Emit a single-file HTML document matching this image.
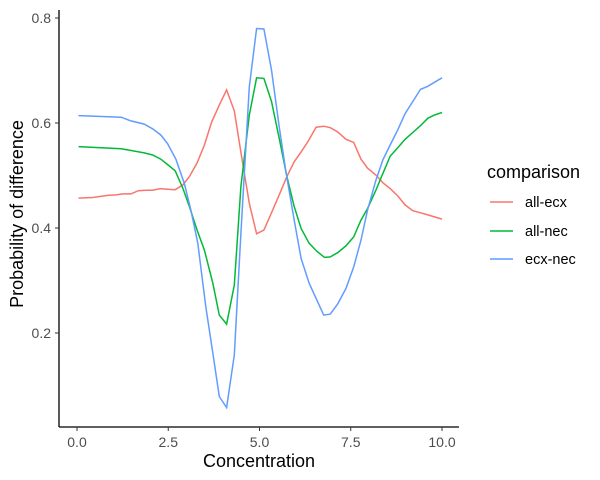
<!DOCTYPE html>
<html><head><meta charset="utf-8"><style>
body{margin:0;background:#fff;}
svg{display:block;font-family:"Liberation Sans",sans-serif;}
</style></head><body>
<svg id="chart" width="600" height="480">
<rect width="600" height="480" fill="#fff"/>
<g id="plot"></g>
<line x1="59" y1="10" x2="59" y2="427" stroke="#000" stroke-width="1.3"/>
<line x1="59" y1="427" x2="459" y2="427" stroke="#000" stroke-width="1.3"/>
<g id="axes"></g>
<text x="259" y="467" font-size="18" text-anchor="middle" fill="#000">Concentration</text>
<text transform="translate(23,214) rotate(-90)" font-size="18" text-anchor="middle" fill="#000">Probability of difference</text>
<g>
<text x="487" y="178" font-size="18" fill="#000">comparison</text>
<g><line x1="490" y1="202" x2="513" y2="202" stroke="#F8766D" stroke-width="1.5"/><text x="525" y="207" font-size="14.5" fill="#000">all-ecx</text></g>
<g><line x1="490" y1="231" x2="513" y2="231" stroke="#00BA38" stroke-width="1.5"/><text x="525" y="236" font-size="14.5" fill="#000">all-nec</text></g>
<g><line x1="490" y1="259" x2="513" y2="259" stroke="#619CFF" stroke-width="1.5"/><text x="525" y="264" font-size="14.5" fill="#000">ecx-nec</text></g>
</g>
</svg>
<script>
const xTicks=[0,2.5,5,7.5,10];
const xTickLabels=["0.0","2.5","5.0","7.5","10.0"];
const yTicks=[0.2,0.4,0.6,0.8];
const yTickLabels=["0.2","0.4","0.6","0.8"];
const seriesNames=["all-ecx","all-nec","ecx-nec"];
const ecxX=[0.04,0.43,0.84,1.07,1.25,1.48,1.68,1.89,2.07,2.28,2.48,2.69,2.90,3.08,3.29,3.49,3.69,3.90,4.10,4.31,4.51,4.72,4.92,5.12,5.33,5.54,5.75,5.95,6.14,6.34,6.55,6.76,6.94,7.14,7.37,7.58,7.78,7.96,8.19,8.38,8.60,8.79,8.99,9.20,9.41,9.61,10.0];
const ecxY=[0.457,0.458,0.462,0.463,0.465,0.465,0.471,0.472,0.472,0.475,0.474,0.473,0.482,0.498,0.524,0.558,0.602,0.634,0.663,0.623,0.536,0.447,0.389,0.396,0.429,0.463,0.498,0.526,0.545,0.566,0.592,0.594,0.591,0.583,0.569,0.563,0.531,0.514,0.501,0.486,0.474,0.461,0.444,0.433,0.429,0.425,0.417];
const necX=[0.04,1.21,1.84,2.07,2.30,2.48,2.69,2.90,3.08,3.29,3.49,3.72,3.90,4.10,4.31,4.49,4.72,4.92,5.12,5.33,5.54,5.75,5.95,6.14,6.36,6.58,6.78,6.94,7.14,7.37,7.58,7.78,7.96,8.19,8.38,8.58,8.79,8.99,9.20,9.41,9.61,9.79,10.0];
const necY=[0.555,0.551,0.543,0.539,0.531,0.521,0.509,0.476,0.441,0.396,0.358,0.295,0.234,0.217,0.291,0.479,0.615,0.686,0.685,0.641,0.571,0.498,0.441,0.399,0.371,0.355,0.344,0.345,0.353,0.366,0.383,0.415,0.437,0.472,0.504,0.537,0.553,0.569,0.582,0.595,0.609,0.615,0.620];
const ecxnecX=[0.04,1.21,1.48,1.84,2.07,2.30,2.48,2.71,2.94,3.12,3.31,3.53,3.72,3.90,4.10,4.31,4.49,4.72,4.92,5.12,5.33,5.54,5.73,5.95,6.14,6.36,6.55,6.76,6.94,7.14,7.37,7.58,7.78,7.96,8.19,8.38,8.60,8.79,8.99,9.20,9.41,9.61,10.0];
const ecxnecY=[0.614,0.611,0.604,0.598,0.589,0.577,0.561,0.531,0.485,0.434,0.371,0.250,0.162,0.079,0.058,0.158,0.390,0.669,0.780,0.779,0.701,0.593,0.505,0.415,0.342,0.295,0.266,0.234,0.236,0.255,0.285,0.326,0.377,0.434,0.491,0.530,0.561,0.587,0.618,0.641,0.664,0.670,0.686];
const ns="http://www.w3.org/2000/svg";
function sx(v){return 77+36.5*v;}
function sy(v){return 438-525*v;}
const axes=document.getElementById('axes');
xTicks.forEach((t,i)=>{
  const l=document.createElementNS(ns,'line');
  l.setAttribute('x1',sx(t));l.setAttribute('x2',sx(t));l.setAttribute('y1',427);l.setAttribute('y2',431);
  l.setAttribute('stroke','#333');
  
  
  axes.appendChild(l);
  const tx=document.createElementNS(ns,'text');
  tx.setAttribute('x',sx(t));tx.setAttribute('y',447);tx.setAttribute('text-anchor','middle');
  tx.setAttribute('font-size','14');tx.setAttribute('fill','#4d4d4d');
  tx.textContent=xTickLabels[i];
  
  
  axes.appendChild(tx);
});
yTicks.forEach((t,i)=>{
  const l=document.createElementNS(ns,'line');
  l.setAttribute('x1',55);l.setAttribute('x2',59);l.setAttribute('y1',sy(t));l.setAttribute('y2',sy(t));
  l.setAttribute('stroke','#333');
  
  
  axes.appendChild(l);
  const tx=document.createElementNS(ns,'text');
  tx.setAttribute('x',51);tx.setAttribute('y',sy(t)+5);tx.setAttribute('text-anchor','end');
  tx.setAttribute('font-size','14');tx.setAttribute('fill','#4d4d4d');
  tx.textContent=yTickLabels[i];
  
  
  axes.appendChild(tx);
});
const plot=document.getElementById('plot');
const series=[[ecxX,ecxY,"#F8766D"],[necX,necY,"#00BA38"],[ecxnecX,ecxnecY,"#619CFF"]];
series.forEach((s,k)=>{
  const p=document.createElementNS(ns,'polyline');
  p.setAttribute('points',s[0].map((x,i)=>sx(x).toFixed(1)+','+sy(s[1][i]).toFixed(1)).join(' '));
  p.setAttribute('fill','none');p.setAttribute('stroke',s[2]);p.setAttribute('stroke-width','1.5');
  
  
  plot.appendChild(p);
});
</script>
</body></html>
